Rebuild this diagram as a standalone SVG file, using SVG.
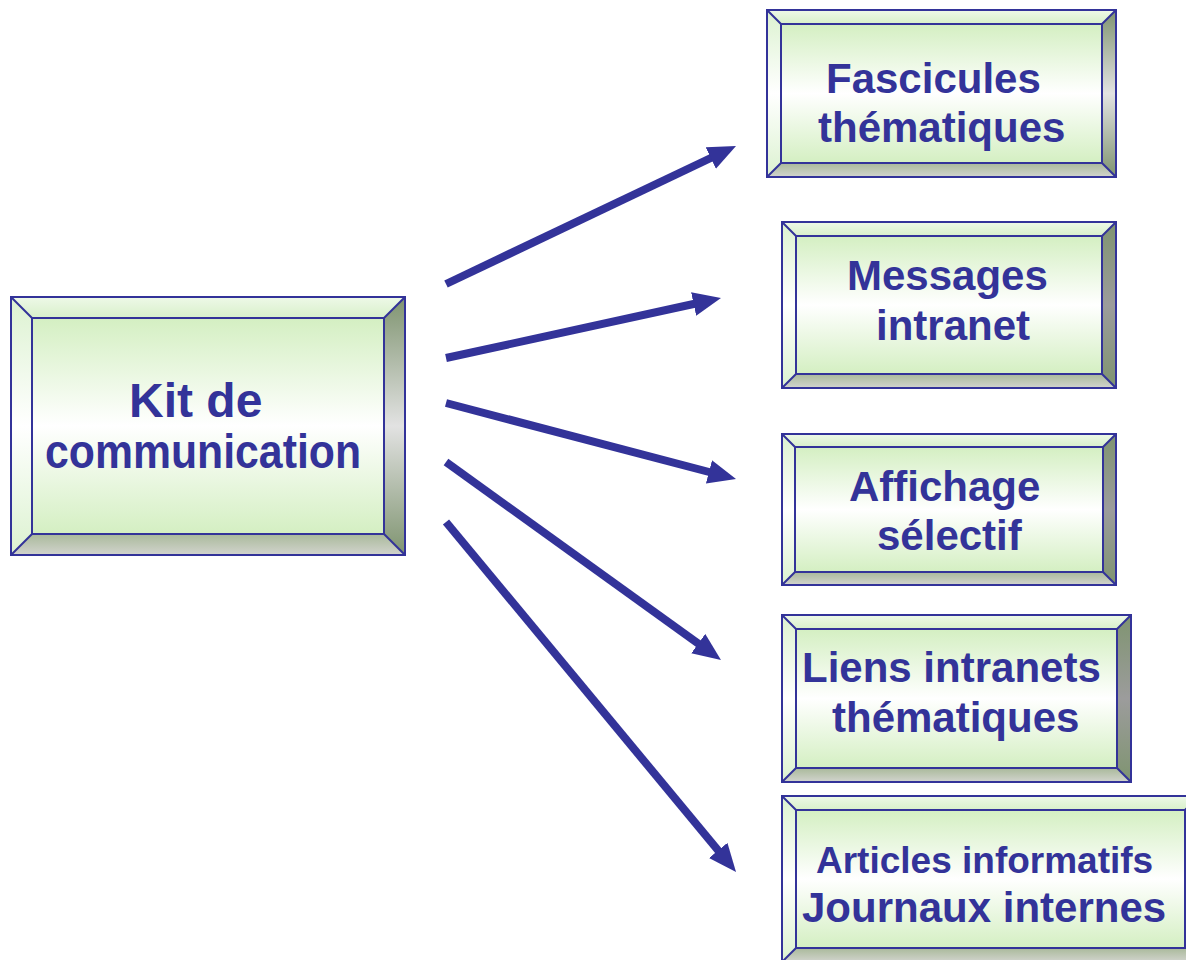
<svg xmlns="http://www.w3.org/2000/svg" width="1186" height="960" viewBox="0 0 1186 960">
<defs>
<linearGradient id="gFace" x1="0" y1="0" x2="0" y2="1"><stop offset="0" stop-color="#d4efc2"/><stop offset="0.5" stop-color="#ffffff"/><stop offset="1" stop-color="#d4efc2"/></linearGradient>
<linearGradient id="gTop" x1="0" y1="0" x2="0" y2="1"><stop offset="0" stop-color="#eef9e8"/><stop offset="1" stop-color="#d8f0ca"/></linearGradient>
<linearGradient id="gLeft" x1="0" y1="0" x2="0" y2="1"><stop offset="0" stop-color="#dcf2d0"/><stop offset="0.5" stop-color="#ffffff"/><stop offset="1" stop-color="#dcf2d0"/></linearGradient>
<linearGradient id="gRight" x1="0" y1="0" x2="0" y2="1"><stop offset="0" stop-color="#7f9470"/><stop offset="0.5" stop-color="#e2e2e2"/><stop offset="1" stop-color="#7f9470"/></linearGradient>
<linearGradient id="gRight2" x1="0" y1="0" x2="0" y2="1"><stop offset="0" stop-color="#7f9470"/><stop offset="0.5" stop-color="#9c9c9c"/><stop offset="1" stop-color="#7f9470"/></linearGradient>
<linearGradient id="gBot" x1="0" y1="0" x2="0" y2="1"><stop offset="0" stop-color="#a9b99a"/><stop offset="1" stop-color="#d2d4ce"/></linearGradient>
<marker id="ah" markerUnits="userSpaceOnUse" markerWidth="28" markerHeight="24" refX="14" refY="12" orient="auto"><path d="M0,0 L28,12 L0,24 Z" fill="#333399"/></marker>
</defs>
<style>
.top{fill:url(#gTop)}.lft{fill:url(#gLeft)}.rgt{fill:url(#gRight)}.rgt2{fill:url(#gRight2)}.bot{fill:url(#gBot)}.face{fill:url(#gFace)}
.edge{fill:none;stroke:#333399;stroke-width:2}
.lbl{font-family:"Liberation Sans",Arial,sans-serif;font-weight:bold;fill:#333399}
.conn{stroke:#333399;stroke-width:8;fill:none;stroke-linecap:butt;marker-end:url(#ah)}
</style>

<g id="kit">
<polygon class="top" points="11,297 405,297 384,318 32,318"/>
<polygon class="bot" points="11,555 32,534 384,534 405,555"/>
<polygon class="lft" points="11,297 32,318 32,534 11,555"/>
<polygon class="rgt" points="405,297 405,555 384,534 384,318"/>
<rect class="face" x="32" y="318" width="352" height="216"/>
<rect class="edge" x="11" y="297" width="394" height="258"/>
<rect class="edge" x="32" y="318" width="352" height="216"/>
<path class="edge" d="M11,297 L32,318 M405,297 L384,318 M11,555 L32,534 M405,555 L384,534"/>
<text class="lbl" font-size="48" x="129" y="417">Kit de</text>
<text class="lbl" font-size="48" x="45" y="468" textLength="316" lengthAdjust="spacingAndGlyphs">communication</text>
</g>

<g id="fascicules">
<polygon class="top" points="767,10 1116,10 1102,24 781,24"/>
<polygon class="bot" points="767,177 781,163 1102,163 1116,177"/>
<polygon class="lft" points="767,10 781,24 781,163 767,177"/>
<polygon class="rgt" points="1116,10 1116,177 1102,163 1102,24"/>
<rect class="face" x="781" y="24" width="321" height="139"/>
<rect class="edge" x="767" y="10" width="349" height="167"/>
<rect class="edge" x="781" y="24" width="321" height="139"/>
<path class="edge" d="M767,10 L781,24 M1116,10 L1102,24 M767,177 L781,163 M1116,177 L1102,163"/>
<text class="lbl" font-size="42" x="826" y="93">Fascicules</text>
<text class="lbl" font-size="42" x="818" y="142">thématiques</text>
</g>

<g id="messages">
<polygon class="top" points="782,222 1116,222 1102,236 796,236"/>
<polygon class="bot" points="782,388 796,374 1102,374 1116,388"/>
<polygon class="lft" points="782,222 796,236 796,374 782,388"/>
<polygon class="rgt2" points="1116,222 1116,388 1102,374 1102,236"/>
<rect class="face" x="796" y="236" width="306" height="138"/>
<rect class="edge" x="782" y="222" width="334" height="166"/>
<rect class="edge" x="796" y="236" width="306" height="138"/>
<path class="edge" d="M782,222 L796,236 M1116,222 L1102,236 M782,388 L796,374 M1116,388 L1102,374"/>
<text class="lbl" font-size="42" x="847" y="290">Messages</text>
<text class="lbl" font-size="42" x="876" y="340">intranet</text>
</g>

<g id="affichage">
<polygon class="top" points="782,434 1116,434 1103,447 795,447"/>
<polygon class="bot" points="782,585 795,572 1103,572 1116,585"/>
<polygon class="lft" points="782,434 795,447 795,572 782,585"/>
<polygon class="rgt2" points="1116,434 1116,585 1103,572 1103,447"/>
<rect class="face" x="795" y="447" width="308" height="125"/>
<rect class="edge" x="782" y="434" width="334" height="151"/>
<rect class="edge" x="795" y="447" width="308" height="125"/>
<path class="edge" d="M782,434 L795,447 M1116,434 L1103,447 M782,585 L795,572 M1116,585 L1103,572"/>
<text class="lbl" font-size="42" x="849" y="501">Affichage</text>
<text class="lbl" font-size="42" x="877" y="550">sélectif</text>
</g>

<g id="liens">
<polygon class="top" points="782,615 1131,615 1117,629 796,629"/>
<polygon class="bot" points="782,782 796,768 1117,768 1131,782"/>
<polygon class="lft" points="782,615 796,629 796,768 782,782"/>
<polygon class="rgt2" points="1131,615 1131,782 1117,768 1117,629"/>
<rect class="face" x="796" y="629" width="321" height="139"/>
<rect class="edge" x="782" y="615" width="349" height="167"/>
<rect class="edge" x="796" y="629" width="321" height="139"/>
<path class="edge" d="M782,615 L796,629 M1131,615 L1117,629 M782,782 L796,768 M1131,782 L1117,768"/>
<text class="lbl" font-size="42" x="802" y="682">Liens intranets</text>
<text class="lbl" font-size="42" x="832" y="732">thématiques</text>
</g>

<g id="articles">
<polygon class="top" points="782,796 1199,796 1185,810 796,810"/>
<polygon class="bot" points="782,962 796,948 1185,948 1199,962"/>
<polygon class="lft" points="782,796 796,810 796,948 782,962"/>
<polygon class="rgt2" points="1199,796 1199,962 1185,948 1185,810"/>
<rect class="face" x="796" y="810" width="389" height="138"/>
<rect class="edge" x="782" y="796" width="417" height="166"/>
<rect class="edge" x="796" y="810" width="389" height="138"/>
<path class="edge" d="M782,796 L796,810 M1199,796 L1185,810 M782,962 L796,948"/>
<text class="lbl" font-size="37" x="816" y="873">Articles informatifs</text>
<text class="lbl" font-size="42" x="802" y="922">Journaux internes</text>
</g>

<g id="connectors">
<line class="conn" x1="446" y1="284" x2="723.4" y2="152.0"/>
<line class="conn" x1="446" y1="358" x2="707.3" y2="301.0"/>
<line class="conn" x1="446" y1="403" x2="722.5" y2="475.5"/>
<line class="conn" x1="446" y1="462" x2="709.6" y2="651.8"/>
<line class="conn" x1="446" y1="522" x2="727.1" y2="861.2"/>
</g>
</svg>
